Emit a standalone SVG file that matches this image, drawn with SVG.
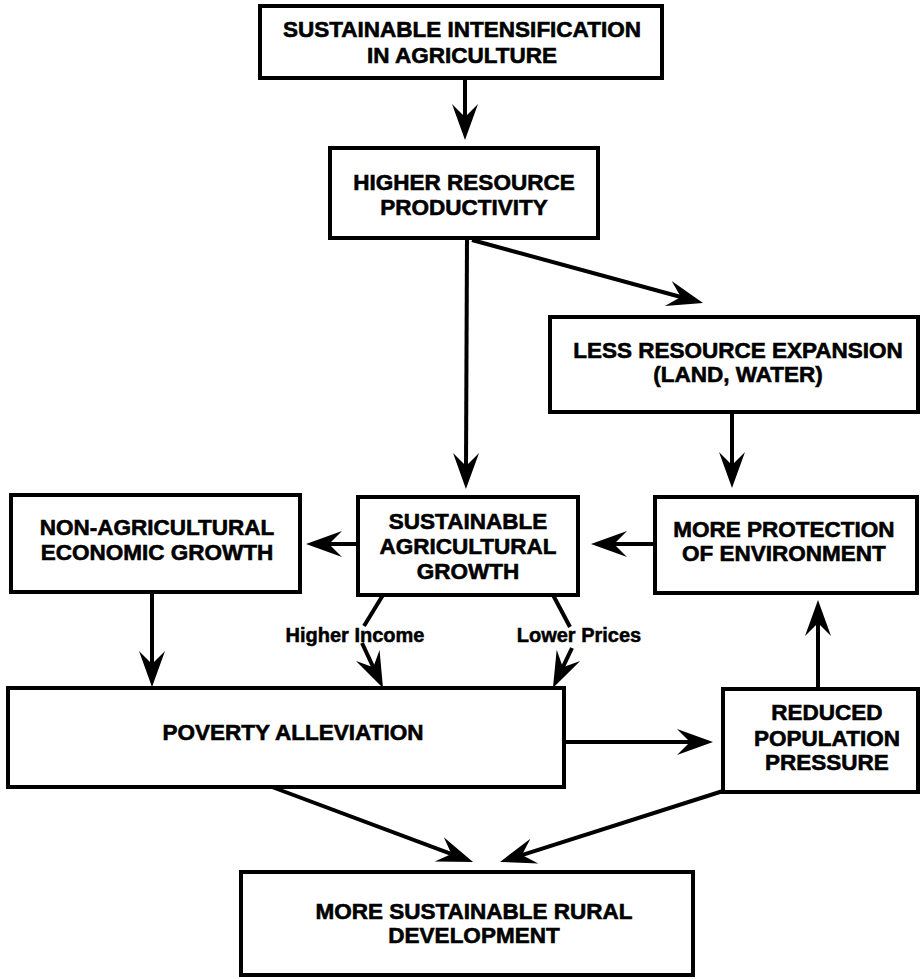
<svg xmlns="http://www.w3.org/2000/svg" width="922" height="979" viewBox="0 0 922 979">
<style>
.box{fill:#fff;stroke:#000;stroke-width:4}
.t{font-family:"Liberation Sans",Arial,Helvetica,sans-serif;font-weight:bold;font-size:22.5px;fill:#000;stroke:#000;stroke-width:0.6;text-anchor:middle}
.lbl{font-family:"Liberation Sans",Arial,Helvetica,sans-serif;font-weight:bold;font-size:20px;fill:#000;stroke:#000;stroke-width:0.5;text-anchor:middle}
.ln{stroke:#000;stroke-width:4;fill:none}
.ar{stroke:#000;stroke-width:4;fill:none;marker-end:url(#ah)}
</style>
<defs>
<marker id="ah" markerUnits="userSpaceOnUse" viewBox="-16 -16 42 32" markerWidth="42" markerHeight="32" refX="0" refY="0" orient="auto">
<path d="M22,0 L-14,-13 L-1,0 L-14,13 Z" fill="#000"/>
</marker>
</defs>
<rect width="922" height="979" fill="#fff"/>
<g id="connectors">
<line class="ar" x1="465" y1="78" x2="465" y2="118"/>
<line class="ar" x1="467" y1="238" x2="466" y2="467"/>
<line class="ar" x1="472" y1="240" x2="681.8" y2="297.2"/>
<line class="ar" x1="732" y1="412" x2="732" y2="466"/>
<line class="ar" x1="655" y1="544" x2="613" y2="544"/>
<line class="ar" x1="358" y1="544" x2="328" y2="544"/>
<line class="ar" x1="152" y1="592" x2="152" y2="665"/>
<line class="ln" x1="383" y1="595" x2="364" y2="626"/>
<line class="ar" x1="362" y1="643" x2="373.7" y2="668.1"/>
<line class="ln" x1="553" y1="595" x2="570" y2="627"/>
<line class="ar" x1="572" y1="648" x2="562.4" y2="668.1"/>
<line class="ar" x1="563" y1="742" x2="691" y2="742"/>
<line class="ar" x1="818" y1="689" x2="818" y2="622"/>
<line class="ar" x1="272" y1="787" x2="452.4" y2="854.3"/>
<line class="ar" x1="723" y1="791" x2="521" y2="855.3"/>
</g>
<g id="n1"><rect class="box" x="260" y="6" width="402" height="72"/>
<text class="t" x="462" y="37">SUSTAINABLE INTENSIFICATION</text>
<text class="t" x="462" y="63">IN AGRICULTURE</text></g>
<g id="n2"><rect class="box" x="330" y="148" width="268" height="90"/>
<text class="t" x="464" y="190">HIGHER RESOURCE</text>
<text class="t" x="464" y="215">PRODUCTIVITY</text></g>
<g id="n3"><rect class="box" x="550" y="317" width="368" height="95"/>
<text class="t" x="738" y="358">LESS RESOURCE EXPANSION</text>
<text class="t" x="738" y="382">(LAND, WATER)</text></g>
<g id="n4"><rect class="box" x="11" y="495" width="289" height="97"/>
<text class="t" x="157" y="535">NON-AGRICULTURAL</text>
<text class="t" x="157" y="560">ECONOMIC GROWTH</text></g>
<g id="n5"><rect class="box" x="358" y="497" width="220" height="98"/>
<text class="t" x="468" y="529">SUSTAINABLE</text>
<text class="t" x="468" y="554">AGRICULTURAL</text>
<text class="t" x="468" y="579">GROWTH</text></g>
<g id="n6"><rect class="box" x="655" y="497" width="262" height="96"/>
<text class="t" x="784" y="537">MORE PROTECTION</text>
<text class="t" x="784" y="561">OF ENVIRONMENT</text></g>
<g id="n7"><rect class="box" x="8" y="688" width="556" height="99"/>
<text class="t" x="293" y="740">POVERTY ALLEVIATION</text></g>
<g id="n8"><rect class="box" x="723" y="689" width="195" height="103"/>
<text class="t" x="827" y="720">REDUCED</text>
<text class="t" x="827" y="746">POPULATION</text>
<text class="t" x="827" y="770">PRESSURE</text></g>
<g id="n9"><rect class="box" x="241" y="872" width="452" height="103"/>
<text class="t" x="474" y="919">MORE SUSTAINABLE RURAL</text>
<text class="t" x="474" y="943">DEVELOPMENT</text></g>
<g id="labels">
<text class="lbl" x="355" y="642">Higher Income</text>
<text class="lbl" x="579" y="642">Lower Prices</text>
</g>
</svg>
